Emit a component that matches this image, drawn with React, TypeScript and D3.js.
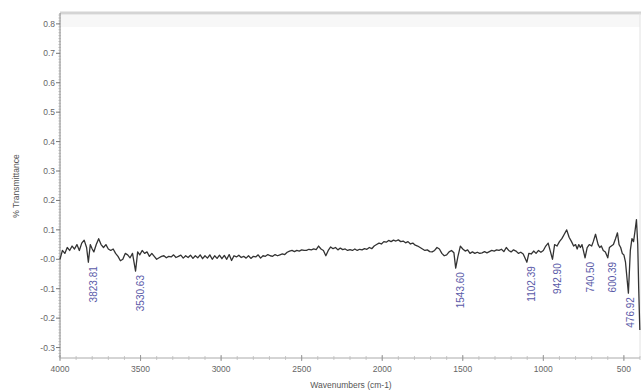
import React from "react";
import * as d3 from "d3";

// spectrum (cm-1, % transmittance)
const wavenumbers = [
  4000, 3985, 3970, 3955, 3940, 3925, 3910, 3895, 3880, 3865, 3850, 3835, 3824, 3812, 3800, 3790, 3775, 3760, 3745,
  3730, 3715, 3700, 3685, 3670, 3655, 3640, 3625, 3610, 3595, 3580, 3565, 3550, 3531, 3518, 3505, 3490, 3475, 3460,
  3445, 3430, 3415, 3400, 3385, 3370, 3355, 3340, 3325, 3310, 3295, 3280, 3265, 3250, 3235, 3220, 3205, 3190, 3175,
  3160, 3145, 3130, 3115, 3100, 3085, 3070, 3055, 3040, 3025, 3010, 2995, 2980, 2965, 2950, 2935, 2920, 2905, 2890,
  2875, 2860, 2845, 2830, 2815, 2800, 2785, 2770, 2755, 2740, 2725, 2710, 2695, 2680, 2665, 2650, 2635, 2620, 2605,
  2590, 2575, 2560, 2545, 2530, 2515, 2500, 2485, 2470, 2455, 2440, 2425, 2410, 2395, 2380, 2365, 2350, 2335, 2320,
  2305, 2290, 2275, 2260, 2245, 2230, 2215, 2200, 2185, 2170, 2155, 2140, 2125, 2110, 2095, 2080, 2065, 2050, 2035,
  2020, 2005, 1990, 1975, 1960, 1945, 1930, 1915, 1900, 1885, 1870, 1855, 1840, 1825, 1810, 1795, 1780, 1765, 1750,
  1735, 1720, 1705, 1690, 1675, 1660, 1645, 1630, 1615, 1600, 1585, 1570, 1555, 1544, 1530, 1515, 1500, 1485, 1470,
  1455, 1440, 1425, 1410, 1395, 1380, 1365, 1350, 1335, 1320, 1305, 1290, 1275, 1260, 1245, 1230, 1215, 1200, 1185,
  1170, 1155, 1140, 1125, 1102, 1090, 1075, 1060, 1045, 1030, 1015, 1000, 985, 970, 958, 943, 930, 915, 900, 885,
  870, 855, 840, 825, 812, 800, 790, 780, 770, 760, 741, 728, 715, 700, 690, 676, 660, 650, 640, 628, 615, 600, 590,
  578, 565, 552, 540, 530, 520, 510, 500, 490, 472, 460, 450, 440, 430, 422, 414, 408, 401,
];
const transmittance = [
  0.0, 0.03, 0.02, 0.04, 0.03, 0.045, 0.035, 0.05, 0.03, 0.055, 0.065, 0.04, -0.01, 0.05, 0.035, 0.025, 0.05, 0.07,
  0.05, 0.04, 0.05, 0.035, 0.03, 0.035, 0.02, 0.01, -0.005, 0.0, 0.02, 0.015, 0.005, 0.02, -0.04, 0.025, 0.015, 0.03,
  0.02, 0.025, 0.01, 0.02, 0.01, 0.0, 0.005, 0.01, 0.012, 0.005, 0.01, 0.008, 0.015, 0.006, 0.01, 0.014, 0.004, 0.012,
  0.006, 0.014, 0.003, 0.012, 0.005, 0.015, 0.002, 0.012, 0.004, 0.015, 0.0, 0.012, 0.003, 0.014, 0.002, 0.013, 0.0,
  0.016, -0.004, 0.012, 0.008, 0.014, 0.006, 0.01, 0.004, 0.012, 0.003, 0.01, 0.008, 0.015, 0.004, 0.012, 0.01, 0.016,
  0.012, 0.01, 0.016, 0.012, 0.015, 0.018, 0.016, 0.024, 0.028, 0.03, 0.026, 0.03, 0.028, 0.032, 0.03, 0.03, 0.034,
  0.032, 0.035, 0.033, 0.045, 0.035, 0.03, 0.012, 0.03, 0.042, 0.036, 0.04, 0.032, 0.038, 0.033, 0.035, 0.03, 0.033,
  0.03, 0.035, 0.03, 0.034, 0.032, 0.036, 0.034, 0.04, 0.036, 0.045, 0.05, 0.055, 0.052, 0.06, 0.058, 0.064, 0.06,
  0.065, 0.062, 0.066, 0.06, 0.062, 0.056, 0.06, 0.052, 0.055, 0.048, 0.045, 0.04, 0.035, 0.03, 0.032, 0.026, 0.025,
  0.03, 0.04, 0.035, 0.02, 0.012, 0.015, 0.025, 0.03, 0.022, -0.03, 0.01, 0.045, 0.035, 0.028, 0.032, 0.02, 0.025,
  0.02, 0.024, 0.02, 0.022, 0.026, 0.022, 0.026, 0.03, 0.028, 0.032, 0.03, 0.034, 0.026, 0.04, 0.03, 0.025, 0.032,
  0.028, 0.02, 0.024, 0.018, -0.01, 0.02, 0.018, 0.028, 0.02, 0.03, 0.024, 0.03, 0.045, 0.055, 0.03, 0.0, 0.05, 0.045,
  0.06, 0.07, 0.085, 0.1, 0.075, 0.06, 0.045, 0.05, 0.035, 0.05, 0.04, 0.05, 0.005, 0.04, 0.05, 0.045, 0.06, 0.085,
  0.05, 0.04, 0.045, 0.03, 0.025, 0.005, 0.04, 0.045, 0.05, 0.07, 0.09, 0.05, 0.04, 0.02, 0.015, -0.01, -0.115, 0.03,
  0.07, 0.06, 0.1, 0.135, 0.05, -0.1, -0.24,
];

const peakLabels = ["3823.81", "3530.63", "1543.60", "1102.39", "942.90", "740.50", "600.39", "476.92"];

const yTickValues = [0.8, 0.7, 0.6, 0.5, 0.4, 0.3, 0.2, 0.1, 0, -0.1, -0.2, -0.3];
const yTickLabels = ["0.8", "0.7", "0.6", "0.5", "0.4", "0.3", "0.2", "0.1", "-0.0", "-0.1", "-0.2", "-0.3"];
const xTickValues = [4000, 3500, 3000, 2500, 2000, 1500, 1000, 500];

const W = 641;
const H = 392;
const FONT = "'Liberation Sans', Arial, sans-serif";

export default function App() {
  const left = 60;
  const right = 640;
  const top = 13;
  const bottom = 358;

  const x = d3.scaleLinear().domain([4000, 400]).range([left, right]);
  const y = d3.scaleLinear().domain([0.837, -0.3355]).range([top, bottom]);

  const points: [number, number][] = wavenumbers.map((w, i) => [w, transmittance[i]]);
  const line = d3
    .line<[number, number]>()
    .x((d) => x(d[0]))
    .y((d) => y(d[1]));

  const minorX = d3.range(4000, 399, -100);
  const minorY = d3.range(-33, 84).map((v) => v / 100);

  // find the dip value nearest each labelled peak
  const labelPos = peakLabels.map((lab) => {
    const wn = +lab;
    let best = points[0];
    for (const p of points) if (Math.abs(p[0] - wn) < Math.abs(best[0] - wn)) best = p;
    return { lab, px: Math.min(x(wn) + 5, 630), py: y(best[1]) + 4 };
  });

  return (
    <svg
      width={W}
      height={H}
      style={{ position: "absolute", left: 0, top: 0, background: "#fff" }}
      fontFamily={FONT}
    >
      {/* frame */}
      <rect x={left} y={top + 2} width={right - left} height={12} fill="#f7f7f7" />
      <line x1={left} x2={W} y1={top} y2={top} stroke="#d4d4d4" strokeWidth={3} />
      <line x1={right} x2={right} y1={top} y2={bottom} stroke="#e2e2e2" strokeWidth={1} />

      {/* y axis */}
      <line x1={left} x2={left} y1={top} y2={bottom} stroke="#888" strokeWidth={1} />
      {minorY.map((v) => (
        <line key={v} x1={left - 1.5} x2={left + 1} y1={y(v)} y2={y(v)} stroke="#aaa" strokeWidth={0.8} />
      ))}
      {yTickValues.map((v, i) => (
        <g key={v}>
          <line x1={left - 4} x2={left} y1={y(v)} y2={y(v)} stroke="#777" />
          <text x={left - 5} y={y(v)} dy="0.35em" textAnchor="end" fontSize={8.5} fill="#666">
            {yTickLabels[i]}
          </text>
        </g>
      ))}
      <text
        transform={`translate(19,186) rotate(-90)`}
        textAnchor="middle"
        fontSize={8.5}
        fill="#555"
      >
        % Transmittance
      </text>

      {/* x axis */}
      <line x1={left} x2={right} y1={bottom} y2={bottom} stroke="#aaa" strokeWidth={1} />
      {minorX.map((v) => (
        <line key={v} x1={x(v)} x2={x(v)} y1={bottom - 2} y2={bottom + 2} stroke="#bbb" strokeWidth={0.8} />
      ))}
      {xTickValues.map((v) => (
        <g key={v}>
          <line x1={x(v)} x2={x(v)} y1={bottom - 3} y2={bottom + 3} stroke="#999" />
          <text x={x(v)} y={bottom + 14} textAnchor="middle" fontSize={8.5} fill="#666">
            {v}
          </text>
        </g>
      ))}
      <text x={351} y={388} textAnchor="middle" fontSize={8.5} fill="#555">
        Wavenumbers (cm-1)
      </text>

      {/* spectrum */}
      <path d={line(points) ?? ""} fill="none" stroke="#333" strokeWidth={1.3} strokeLinejoin="round" />

      {/* peak labels */}
      {labelPos.map((d) => (
        <text
          key={d.lab}
          transform={`translate(${d.px + 3.5},${d.py}) rotate(-90)`}
          textAnchor="end"
          fontSize={10}
          fill="#5a5aa8"
        >
          {d.lab}
        </text>
      ))}
    </svg>
  );
}
